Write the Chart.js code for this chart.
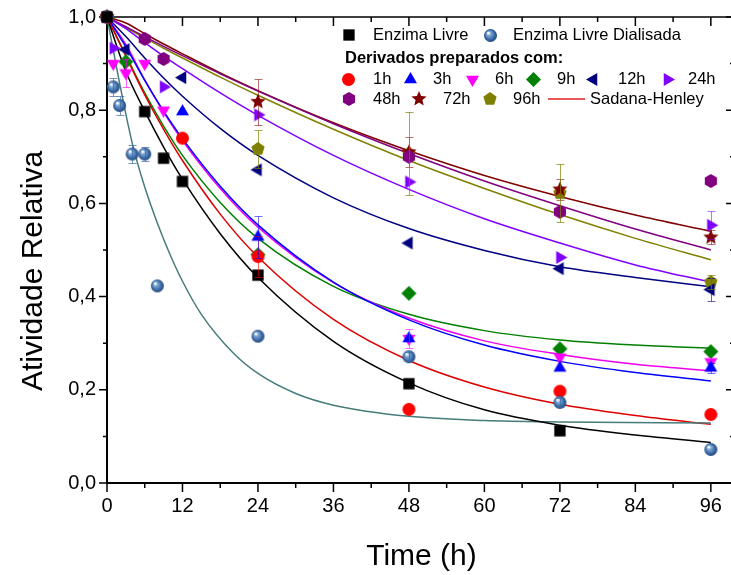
<!DOCTYPE html>
<html>
<head>
<meta charset="utf-8">
<title>Atividade relativa</title>
<script src="https://cdn.jsdelivr.net/npm/chart.js@4.4.1/dist/chart.umd.min.js"></script>
<style>
    html, body { margin: 0; padding: 0; background: #fff; overflow: hidden; }
    #wrap { width: 744px; height: 575px; }
</style>
</head>
<body>
<div id="wrap"><canvas id="atividadeChart" width="744" height="575"></canvas></div>
<script>
// Atividade relativa medida (tempo em h)
const livreTempo = [0, 6, 9, 12, 24, 48, 72];
const livreAtiv  = [1.0, 0.797, 0.697, 0.647, 0.446, 0.213, 0.112];

const dialTempo = [0, 1, 2, 4, 6, 8, 24, 48, 72, 96];
const dialAtiv  = [1.0, 0.85, 0.81, 0.706, 0.706, 0.423, 0.315, 0.271, 0.173, 0.072];
const dialErro  = [0, 0.02, 0.02, 0.02, 0.015, 0, 0, 0.01, 0.01, 0];

const h1Tempo = [0, 12, 24, 48, 72, 96];
const h1Ativ  = [1.0, 0.74, 0.486, 0.158, 0.197, 0.147];
const h1Erro  = [0, 0, 0.045, 0, 0, 0];

const h3Tempo = [0, 12, 24, 48, 72, 96];
const h3Ativ  = [1.0, 0.797, 0.528, 0.31, 0.247, 0.247];
const h3Erro  = [0, 0, 0.045, 0, 0, 0.01];

const h6Tempo = [0, 1, 3, 6, 9, 48, 72, 96];
const h6Ativ  = [1.0, 0.90, 0.88, 0.90, 0.80, 0.31, 0.27, 0.26];
const h6Erro  = [0, 0, 0.03, 0, 0, 0.02, 0, 0];

const h9Tempo = [0, 3, 24, 48, 72, 96];
const h9Ativ  = [1.0, 0.904, 0.49, 0.407, 0.288, 0.282];

const h12Tempo = [0, 3, 12, 24, 48, 72, 96];
const h12Ativ  = [1.0, 0.93, 0.87, 0.672, 0.515, 0.46, 0.415];
const h12Erro  = [0, 0, 0, 0, 0, 0, 0.025];

const h24Tempo = [0, 1, 9, 24, 48, 72, 96];
const h24Ativ  = [1.0, 0.933, 0.85, 0.79, 0.646, 0.484, 0.553];
const h24Erro  = [0, 0, 0, 0, 0, 0, 0.03];

const h48Tempo = [0, 6, 9, 48, 72, 96];
const h48Ativ  = [1.0, 0.953, 0.91, 0.70, 0.582, 0.648];

const h72Tempo = [0, 24, 48, 72, 96];
const h72Ativ  = [1.0, 0.818, 0.71, 0.63, 0.527];
const h72Erro  = [0, 0.05, 0.032, 0.022, 0.015];

const h96Tempo = [0, 24, 48, 72, 96];
const h96Ativ  = [1.0, 0.717, 0.707, 0.622, 0.431];
const h96Erro  = [0, 0.04, 0.09, 0.062, 0.015];

// Curvas ajustadas (Sadana-Henley)
const ajusteTempo = [0, 3, 6, 9, 12, 18, 24, 36, 48, 60, 72, 84, 96];
const ajusteLivre = [1.0, 0.883, 0.798, 0.721, 0.652, 0.535, 0.441, 0.304, 0.215, 0.157, 0.124, 0.103, 0.087];
const ajuste1h  = [1.0, 0.916, 0.833, 0.759, 0.692, 0.577, 0.485, 0.351, 0.263, 0.206, 0.169, 0.145, 0.126];
const ajuste3h  = [1.0, 0.936, 0.864, 0.798, 0.739, 0.637, 0.554, 0.431, 0.350, 0.296, 0.261, 0.237, 0.219];
const ajuste6h  = [1.0, 0.941, 0.865, 0.796, 0.735, 0.632, 0.549, 0.430, 0.354, 0.305, 0.276, 0.255, 0.241];
const ajuste9h  = [1.0, 0.918, 0.837, 0.766, 0.703, 0.602, 0.525, 0.422, 0.362, 0.327, 0.307, 0.296, 0.289];
const ajuste12h = [1.0, 0.958, 0.912, 0.869, 0.830, 0.761, 0.703, 0.612, 0.546, 0.499, 0.464, 0.441, 0.421];
const ajuste24h = [1.0, 0.975, 0.945, 0.916, 0.889, 0.837, 0.789, 0.703, 0.630, 0.567, 0.515, 0.468, 0.431];
const ajuste48h = [1.0, 0.979, 0.958, 0.937, 0.917, 0.878, 0.841, 0.771, 0.707, 0.648, 0.595, 0.545, 0.500];
const ajuste72h = [1.0, 0.987, 0.964, 0.942, 0.921, 0.880, 0.842, 0.773, 0.713, 0.660, 0.615, 0.575, 0.540];
const ajuste96h = [1.0, 0.977, 0.955, 0.933, 0.912, 0.871, 0.832, 0.759, 0.692, 0.632, 0.576, 0.525, 0.479];

const ajusteDialTempo = [0, 2, 4, 6, 8, 10, 12, 15, 20, 24, 30, 36, 48, 60, 72, 96];
const ajusteDial = [1.0, 0.858, 0.73, 0.635, 0.558, 0.491, 0.433, 0.362, 0.280, 0.235, 0.192, 0.167, 0.143, 0.134, 0.131, 0.129];

const xTicks = [0, 12, 24, 36, 48, 60, 72, 84, 96];
const yTicks = [0, 0.2, 0.4, 0.6, 0.8, 1.0];

const FONT = "'Liberation Sans', Arial, Helvetica, sans-serif";

// ---- marcadores desenhados em canvas ----
function marker(size, paint) {
    const c = document.createElement('canvas');
    c.width = c.height = size;
    paint(c.getContext('2d'), size / 2);
    return c;
}

function poly(color, n, r, start, inner) {
    return marker(Math.ceil(2 * r + 2), (g, c) => {
        const steps = inner ? n * 2 : n;
        g.beginPath();
        for (let i = 0; i < steps; i++) {
            const rr = inner && i % 2 ? r * inner : r;
            const a = start + i * 2 * Math.PI / steps;
            g.lineTo(c + rr * Math.cos(a), c + rr * Math.sin(a));
        }
        g.closePath();
        g.fillStyle = color;
        g.fill();
    });
}

function circle(color, r) {
    return marker(Math.ceil(2 * r + 2), (g, c) => {
        g.beginPath();
        g.arc(c, c, r, 0, 2 * Math.PI);
        g.fillStyle = color;
        g.fill();
    });
}

function ball(r) {
    return marker(Math.ceil(2 * r + 2), (g, c) => {
        const grad = g.createRadialGradient(c - r * 0.35, c - r * 0.4, r * 0.1, c, c, r);
        grad.addColorStop(0, '#ffffff');
        grad.addColorStop(0.25, '#7ea8d6');
        grad.addColorStop(0.7, '#3b6aa6');
        grad.addColorStop(1, '#23467a');
        g.beginPath();
        g.arc(c, c, r, 0, 2 * Math.PI);
        g.fillStyle = grad;
        g.fill();
    });
}

const PI = Math.PI;
const mk = {
    livre: poly('#000000', 4, 8, PI / 4),
    dial: ball(6.5),
    h1: circle('#ff0000', 6.5),
    h3: poly('#0000ff', 3, 7.5, -PI / 2),
    h6: poly('#ff00ff', 3, 7.5, PI / 2),
    h9: poly('#008000', 4, 7.5, -PI / 2),
    h12: poly('#000080', 3, 7.5, PI),
    h24: poly('#8000ff', 3, 7.5, 0),
    h48: poly('#800080', 6, 7, -PI / 2),
    h72: poly('#800000', 5, 8, -PI / 2, 0.45),
    h96: poly('#808000', 5, 7, -PI / 2)
};

function pts(t, v) {
    return t.map((x, i) => ({ x: x, y: v[i] }));
}

function pontos(label, t, v, estilo, erro, erroCor) {
    return {
        type: 'scatter',
        label: label,
        data: pts(t, v),
        pointStyle: estilo,
        pointRadius: 7,
        erro: erro || null,
        erroCor: erroCor,
        clip: false,
        order: 1
    };
}

function curva(t, v, cor) {
    return {
        type: 'line',
        data: pts(t, v),
        borderColor: cor,
        borderWidth: 1.5,
        pointRadius: 0,
        fill: false,
        cubicInterpolationMode: 'monotone',
        clip: false,
        order: 2
    };
}

const datasets = [
    pontos('Enzima Livre', livreTempo, livreAtiv, mk.livre),
    pontos('Enzima Livre Dialisada', dialTempo, dialAtiv, mk.dial, dialErro, 'rgba(59,106,166,0.7)'),
    pontos('1h', h1Tempo, h1Ativ, mk.h1, h1Erro, 'rgba(255,0,0,0.6)'),
    pontos('3h', h3Tempo, h3Ativ, mk.h3, h3Erro, 'rgba(0,0,255,0.55)'),
    pontos('6h', h6Tempo, h6Ativ, mk.h6, h6Erro, 'rgba(255,0,255,0.6)'),
    pontos('9h', h9Tempo, h9Ativ, mk.h9),
    pontos('12h', h12Tempo, h12Ativ, mk.h12, h12Erro, 'rgba(0,0,128,0.6)'),
    pontos('24h', h24Tempo, h24Ativ, mk.h24, h24Erro, 'rgba(128,0,255,0.55)'),
    pontos('48h', h48Tempo, h48Ativ, mk.h48),
    pontos('72h', h72Tempo, h72Ativ, mk.h72, h72Erro, 'rgba(128,0,0,0.55)'),
    pontos('96h', h96Tempo, h96Ativ, mk.h96, h96Erro, 'rgba(128,128,0,0.7)'),

    curva(ajusteTempo, ajusteLivre, '#000000'),
    curva(ajusteDialTempo, ajusteDial, '#467c7a'),
    curva(ajusteTempo, ajuste1h, '#dd0000'),
    curva(ajusteTempo, ajuste3h, '#0000ff'),
    curva(ajusteTempo, ajuste6h, '#ee00ee'),
    curva(ajusteTempo, ajuste9h, '#008000'),
    curva(ajusteTempo, ajuste12h, '#000080'),
    curva(ajusteTempo, ajuste24h, '#8000ff'),
    curva(ajusteTempo, ajuste48h, '#800080'),
    curva(ajusteTempo, ajuste72h, '#800000'),
    curva(ajusteTempo, ajuste96h, '#808000')
];

// eixos com marcas maiores/menores, desenhados por baixo dos dados
const frame = {
    id: 'frame',
    beforeDatasetsDraw(chart) {
        const { ctx, chartArea: a, scales: { x, y } } = chart;
        const mid = arr => arr.slice(1).map((v, i) => (v + arr[i]) / 2);
        ctx.save();
        ctx.strokeStyle = '#000';
        ctx.lineWidth = 2;
        ctx.beginPath();
        ctx.moveTo(a.left, a.top);
        ctx.lineTo(a.left, a.bottom);
        ctx.lineTo(a.right, a.bottom);
        ctx.stroke();
        ctx.lineWidth = 1.5;
        ctx.beginPath();
        ctx.moveTo(a.left, a.top);
        ctx.lineTo(a.right, a.top);
        ctx.lineTo(a.right, a.bottom);
        ctx.stroke();

        ctx.beginPath();
        const tickX = (v, len) => {
            const px = x.getPixelForValue(v);
            ctx.moveTo(px, a.bottom); ctx.lineTo(px, a.bottom + len);
            ctx.moveTo(px, a.top); ctx.lineTo(px, a.top + len);
        };
        const tickY = (v, len) => {
            const py = y.getPixelForValue(v);
            ctx.moveTo(a.left, py); ctx.lineTo(a.left - len, py);
            ctx.moveTo(a.right, py); ctx.lineTo(a.right - len - 2, py);
        };
        xTicks.forEach(v => tickX(v, 9));
        mid(xTicks).forEach(v => tickX(v, 5));
        yTicks.forEach(v => tickY(v, 8));
        mid(yTicks).forEach(v => tickY(v, 4));
        ctx.stroke();
        ctx.restore();
    }
};

const errorBars = {
    id: 'errorBars',
    afterDatasetsDraw(chart) {
        const { ctx, scales: { x, y } } = chart;
        ctx.save();
        ctx.lineWidth = 1;
        chart.data.datasets.forEach(ds => {
            if (!ds.erro) return;
            ctx.strokeStyle = ds.erroCor;
            ds.data.forEach((p, i) => {
                const e = ds.erro[i];
                if (!e) return;
                const px = Math.round(x.getPixelForValue(p.x)) + 0.5;
                const y1 = Math.round(y.getPixelForValue(p.y + e)) + 0.5;
                const y2 = Math.round(y.getPixelForValue(p.y - e)) + 0.5;
                ctx.beginPath();
                ctx.moveTo(px, y1); ctx.lineTo(px, y2);
                ctx.moveTo(px - 4, y1); ctx.lineTo(px + 4, y1);
                ctx.moveTo(px - 4, y2); ctx.lineTo(px + 4, y2);
                ctx.stroke();
            });
        });
        ctx.restore();
    }
};

// legenda e título do eixo y
const legenda = {
    id: 'legenda',
    afterDraw(chart) {
        const ctx = chart.ctx;
        const itens = [
            [349, 35, mk.livre, 373, 'Enzima Livre'],
            [490, 35, mk.dial, 513, 'Enzima Livre Dialisada'],
            [348, 79, mk.h1, 373, '1h'],
            [410, 79, mk.h3, 433, '3h'],
            [472, 79, mk.h6, 495, '6h'],
            [533, 79, mk.h9, 557, '9h'],
            [593, 79, mk.h12, 618, '12h'],
            [667, 79, mk.h24, 688, '24h'],
            [349, 99, mk.h48, 373, '48h'],
            [419, 99, mk.h72, 443, '72h'],
            [490, 99, mk.h96, 513, '96h']
        ];
        ctx.save();
        ctx.textBaseline = 'middle';
        ctx.textAlign = 'left';
        ctx.fillStyle = '#000';
        ctx.font = '16.5px ' + FONT;
        itens.forEach(([mx, my, m, tx, txt]) => {
            ctx.drawImage(m, Math.round(mx - m.width / 2), Math.round(my - m.height / 2));
            ctx.fillText(txt, tx, my);
        });
        ctx.strokeStyle = '#e02020';
        ctx.lineWidth = 1.5;
        ctx.beginPath();
        ctx.moveTo(548, 99);
        ctx.lineTo(585, 99);
        ctx.stroke();
        ctx.fillText('Sadana-Henley', 590, 99);
        ctx.font = 'bold 16.5px ' + FONT;
        ctx.fillText('Derivados preparados com:', 345, 58);

        ctx.translate(34, 271);
        ctx.rotate(-PI / 2);
        ctx.textAlign = 'center';
        ctx.font = '30px ' + FONT;
        ctx.fillText('Atividade Relativa', 0, 0);
        ctx.restore();
    }
};

new Chart(document.getElementById('atividadeChart'), {
    type: 'scatter',
    data: { datasets: datasets },
    options: {
        responsive: false,
        devicePixelRatio: 1,
        animation: false,
        layout: { padding: { top: 17, right: 4, bottom: 0, left: 0 } },
        plugins: {
            legend: { display: false },
            tooltip: { enabled: false }
        },
        scales: {
            x: {
                type: 'linear',
                min: 0,
                max: 100,
                afterBuildTicks: s => { s.ticks = xTicks.map(v => ({ value: v })); },
                afterFit: s => { s.height = 92; s.paddingLeft = 0; s.paddingRight = 0; },
                grid: { display: false, drawTicks: false },
                border: { display: false },
                ticks: { color: '#000', font: { family: FONT, size: 20 }, padding: 11, maxRotation: 0 },
                title: {
                    display: true,
                    text: 'Time (h)',
                    color: '#000',
                    font: { family: FONT, size: 30 },
                    padding: { top: 6, bottom: 0 }
                }
            },
            y: {
                type: 'linear',
                min: 0,
                max: 1,
                afterBuildTicks: s => { s.ticks = yTicks.map(v => ({ value: v })); },
                afterFit: s => { s.width = 107; s.paddingTop = 0; s.paddingBottom = 0; },
                grid: { display: false, drawTicks: false },
                border: { display: false },
                ticks: {
                    color: '#000',
                    font: { family: FONT, size: 20 },
                    padding: 11,
                    callback: v => v.toFixed(1).replace('.', ',')
                }
            }
        }
    },
    plugins: [frame, errorBars, legenda]
});
</script>
</body>
</html>
